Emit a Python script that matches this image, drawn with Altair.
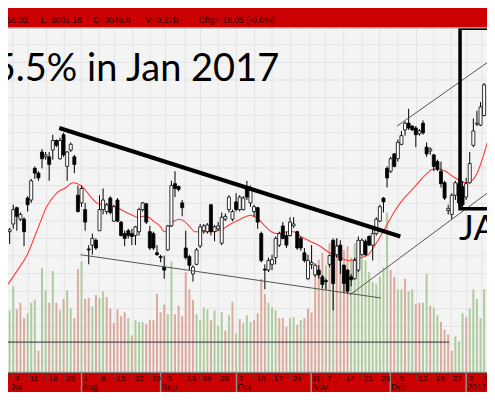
import altair as alt
import pandas as pd

# ---------------- layout constants ----------------
W, H = 479, 384          # whole chart (fits the page inside its 8px margin)
REF_W, REF_H = 495, 400  # reference picture size
KX, KY = W / REF_W, H / REF_H
STEP = 3.7146            # reference px per trading day
X0 = 1.7                 # reference px of the first candle
XDOM = [-X0 / STEP, (REF_W - X0) / STEP]
PDOM = [0, 400]          # price-level domain
VDOM = [-20, 380]        # volume domain (0 sits on top of the date band)

# ---------------- data ----------------
opens = [167, 175, 192, 180, 180, 202, 200, 233, 228, 250, 245, 245, 252, 262, 243, 268, 235, 252, 245, 205,
         197, 190, 149, 153, 158, 168, 190, 188, 202, 178, 200, 177, 165, 168, 165, 163, 167, 190, 196, 167,
         165, 145, 141, 130, 148, 173, 217, 214, 197, 150, 141, 123, 133, 152, 168, 167, 195, 167, 170, 155,
         180, 190, 180, 198, 190, 190, 213, 197, 188, 192, 165, 128, 127, 133, 140, 153, 173, 163, 163, 173,
         167, 160, 145, 118, 133, 122, 127, 120, 116, 133, 158, 143, 153, 132, 127, 120, 118, 127, 143, 157,
         162, 153, 165, 178, 202, 233, 230, 248, 243, 258, 273, 280, 277, 275, 269, 280, 255, 251, 247, 240,
         230, 218, 189, 185, 205, 217, 214, 203, 218, 257, 279, 278, 288]
highs = [171, 195, 193, 187, 182, 204, 222, 235, 230, 253, 250, 250, 268, 263, 265, 270, 251, 260, 247, 215,
         215, 197, 153, 165, 160, 205, 212, 197, 204, 195, 202, 178, 168, 170, 170, 173, 192, 198, 197, 173,
         167, 153, 143, 142, 174, 220, 230, 215, 200, 168, 143, 132, 150, 175, 175, 176, 196, 174, 177, 187,
         186, 205, 190, 207, 205, 204, 220, 215, 195, 193, 167, 133, 140, 143, 162, 167, 177, 167, 182, 182,
         168, 162, 150, 143, 153, 134, 132, 122, 118, 143, 160, 160, 158, 133, 128, 123, 140, 162, 160, 159,
         163, 170, 182, 195, 203, 235, 245, 249, 263, 272, 282, 295, 278, 277, 274, 283, 260, 255, 248, 242,
         240, 220, 195, 207, 220, 223, 220, 223, 250, 285, 293, 302, 322]
lows = [154, 170, 168, 178, 152, 188, 197, 222, 220, 233, 242, 220, 242, 255, 242, 245, 220, 250, 228, 187,
        193, 168, 133, 143, 148, 168, 185, 185, 185, 177, 177, 162, 152, 160, 153, 153, 163, 188, 175, 148,
        148, 142, 135, 118, 147, 172, 203, 209, 183, 138, 127, 115, 132, 150, 165, 165, 163, 157, 168, 153,
        178, 187, 178, 188, 188, 189, 200, 193, 183, 170, 135, 107, 125, 127, 133, 151, 159, 150, 162, 171,
        148, 147, 135, 117, 128, 120, 118, 108, 107, 130, 85, 140, 123, 103, 102, 110, 117, 125, 142, 142,
        152, 137, 163, 177, 187, 213, 228, 234, 240, 257, 267, 273, 272, 255, 267, 268, 245, 247, 230, 230,
        213, 200, 185, 180, 200, 193, 192, 200, 217, 255, 277, 277, 287]
closes = [169, 190, 183, 185, 167, 195, 220, 228, 223, 243, 247, 237, 262, 257, 262, 247, 250, 258, 237, 188,
          212, 177, 148, 160, 150, 190, 200, 195, 187, 193, 178, 163, 160, 163, 162, 172, 190, 197, 177, 150,
          150, 143, 140, 127, 173, 215, 212, 211, 192, 140, 132, 130, 148, 172, 173, 174, 167, 172, 173, 182,
          183, 203, 188, 190, 203, 202, 203, 210, 193, 177, 137, 127, 137, 138, 160, 165, 160, 153, 177, 175,
          150, 150, 137, 137, 135, 132, 122, 112, 115, 142, 113, 152, 137, 113, 105, 117, 137, 158, 158, 143,
          153, 165, 180, 193, 198, 223, 243, 235, 260, 267, 280, 275, 273, 268, 272, 270, 248, 253, 235, 232,
          217, 202, 191, 205, 218, 197, 195, 217, 238, 272, 280, 297, 320]
volumes = [65, 90, 66, 73, 57, 62, 73, 76, 23, 109, 86, 73, 106, 73, 65, 77, 86, 67, 57, 108,
           116, 77, 78, 69, 81, 78, 85, 79, 67, 52, 66, 59, 63, 57, 39, 55, 53, 53, 51, 55,
           55, 82, 63, 71, 61, 116, 61, 70, 59, 105, 87, 76, 61, 55, 68, 66, 55, 65, 49, 63,
           44, 60, 74, 41, 56, 52, 60, 53, 55, 62, 98, 82, 73, 68, 65, 57, 57, 48, 57, 58,
           50, 55, 57, 67, 63, 102, 118, 125, 112, 135, 125, 140, 130, 128, 132, 120, 135, 125, 122, 117,
           105, 95, 93, 100, 110, 167, 107, 100, 87, 87, 98, 85, 87, 72, 73, 73, 103, 70, 68, 60,
           53, 45, 40, 23, 38, 33, 62, 58, 67, 87, 77, 57, 87]
vol_dir = list("ggrrrgggrggrgrgrggrrgrrgrggrrrrrrgrgggrrrrrrggrrrrrrggggrgggrgrgrgg"
               "grrrrgggrrrggrgrrrrrrgrgrrrrgggggggggggrrggrggrrggrggrrrrgggrgggggrg")
vol_dir = vol_dir[:len(volumes)]

ma_idx = [-0.5, 2.2, 4.9, 7.6, 10.3, 13.0, 15.7, 17.5, 18.9, 20.2, 21.6, 23.3, 24.7, 26.5, 28.3, 30.1,
          31.9, 33.7, 35.5, 37.3, 38.6, 40.0, 41.8, 43.1, 44.0, 45.4, 47.2, 48.5, 49.9, 51.6, 53.5, 56.1,
          58.8, 61.5, 64.2, 66.9, 69.2, 71.0, 72.8, 74.6, 77.3, 79.1, 80.9, 83.6, 86.3, 89.0, 91.7, 94.3,
          96.1, 97.9, 99.7, 101.5, 103.3, 105.1, 106.9, 108.7, 110.5, 112.3, 114.1, 115.9, 117.7, 119.5,
          121.3, 123.1, 124.9, 126.7, 128.5, 130.3, 131.7, 132.9]
ma_val = [112, 127, 143, 168, 193, 207, 213, 218, 217, 214, 208, 200, 196, 195, 194, 192,
          188, 185, 182, 183, 182, 178, 173, 167, 170, 177, 180, 178, 173, 167, 167, 167,
          169, 175, 180, 184, 180, 173, 167, 165, 167, 167, 162, 157, 152, 145, 140, 137,
          138, 140, 143, 152, 163, 175, 187, 197, 205, 212, 220, 227, 232, 232,
          230, 225, 221, 218, 220, 230, 245, 260]

# trend lines: (line id, day index, level)
thick_line = [(13.8, 275), (108.7, 162)]
thin_lines = [("support", 19.7, 143), ("support", 103.2, 98),
              ("rise", 94.6, 101), ("rise", 132.8, 207),
              ("channel", 107.8, 277), ("channel", 132.8, 343),
              ("flat", -0.46, 52), ("flat", 122.3, 52)]
box = [(125.3, 140.0, 191, 379)]

grid_levels = [380, 361.7, 343.3, 325, 306.7, 288.3, 270, 251.7, 233.3, 215, 196.7, 178.3, 160, 141.7,
               123.3, 105, 86.7, 68.3, 50, 31.7]
week_pos = [0.9, 5.2, 10.3, 15.2, 20.0, 24.85, 29.2, 34.3, 39.1, 43.4, 48.8, 53.1, 58.0, 63.1, 68.2, 73.0,
            78.2, 83.5, 87.8, 92.95, 98.1, 102.9, 108.0, 113.2, 118.0, 122.8, 127.1, 131.4]
week_labels = ["4", "11", "18", "25", "1", "8", "15", "22", "29", "5", "13", "19", "28", "3", "10", "17",
               "24", "31", "7", "14", "21", "28", "5", "12", "19", "27", "3", "9"]
month_sep = [20.0, 42.0, 63.1, 83.9, 105.9, 127.0]
month_pos = [0.0, 20.0, 42.0, 63.1, 83.9, 105.9, 127.0]
month_labels = ["Jul", "Aug", "Sep", "Oct", "Nov", "Dec", "2017"]

header_items = [("H=3056.32", 5.2, "right"), ("L=3031.18", 8.7, "left"), ("C=3046.8", 23.2, "left"),
                ("V=0.27B", 37.8, "left"), ("Chg=-18.05 (-0.6%)", 52.6, "left")]
headline = [("15.5% in Jan 2017", 75.0, 324)]
corner = [("JA", 125.0, 158)]

# ---------------- frames ----------------
n = len(closes)
candles = pd.DataFrame({"idx": list(range(n)), "o": opens, "h": highs, "l": lows, "c": closes})
candles["up"] = candles["c"] >= candles["o"]
vol = pd.DataFrame({"idx": list(range(n)), "vol": volumes, "dir": vol_dir})
ma = pd.DataFrame({"idx": ma_idx, "v": ma_val})
thick = pd.DataFrame(thick_line, columns=["idx", "v"])
thin = pd.DataFrame(thin_lines, columns=["id", "idx", "v"])
boxdf = pd.DataFrame(box, columns=["x1", "x2", "y1", "y2"])
grid_y = pd.DataFrame({"v": grid_levels})
weeks = pd.DataFrame({"idx": week_pos, "lab": week_labels})
seps = pd.DataFrame({"idx": month_sep})
months = pd.DataFrame({"idx": month_pos, "lab": month_labels})
header = pd.DataFrame(header_items, columns=["txt", "idx", "al"])
head_df = pd.DataFrame(headline, columns=["txt", "idx", "v"])
corner_df = pd.DataFrame(corner, columns=["txt", "idx", "v"])

xs = alt.Scale(domain=XDOM, nice=False, zero=False)
ps = alt.Scale(domain=PDOM, nice=False, zero=False)
vs = alt.Scale(domain=VDOM, nice=False, zero=False)

def X(field="idx"):
    return alt.X(f"{field}:Q", scale=xs, axis=None)

def P(field):
    return alt.Y(f"{field}:Q", scale=ps, axis=None)

GRID = "#e4e4e4"
RED_BAND = "#cc0000"
TXT = "#2a0000"

grid_h = alt.Chart(grid_y).mark_rule(color=GRID, strokeWidth=1).encode(y=P("v"))
grid_v = alt.Chart(weeks).mark_rule(color=GRID, strokeWidth=1).encode(x=X())

vol_bars = alt.Chart(vol).transform_calculate(
    x1="datum.idx - 0.28", x2="datum.idx + 0.28", zero="0"
).mark_rect().encode(
    x=alt.X("x1:Q", scale=xs, axis=None), x2="x2:Q",
    y=alt.Y("vol:Q", scale=vs, axis=None), y2="zero:Q",
    color=alt.Color("dir:N", scale=alt.Scale(domain=["g", "r"], range=["#afcc9f", "#dcab9e"]), legend=None),
)

flat_line = alt.Chart(thin[thin["id"] == "flat"]).mark_line(color="#333333", strokeWidth=1).encode(
    x=X(), y=P("v"))

ma_line = alt.Chart(ma).mark_line(color="#ff3b3b", strokeWidth=1.1, interpolate="monotone").encode(
    x=X(), y=P("v"))

wicks = alt.Chart(candles).mark_rule(color="#000000", strokeWidth=1).encode(
    x=X(), y=P("l"), y2="h:Q")

bodies = alt.Chart(candles).transform_calculate(
    x1="datum.idx - 0.42", x2="datum.idx + 0.42"
).mark_rect(stroke="#000000", strokeWidth=0.8).encode(
    x=alt.X("x1:Q", scale=xs, axis=None), x2="x2:Q",
    y=P("o"), y2="c:Q",
    fill=alt.Fill("up:N", scale=alt.Scale(domain=[True, False], range=["#ffffff", "#000000"]), legend=None),
)

thin_tl = alt.Chart(thin[thin["id"] != "flat"]).mark_line(color="#555555", strokeWidth=1).encode(
    x=X(), y=P("v"), detail="id:N")

thick_tl = alt.Chart(thick).mark_line(color="#000000", strokeWidth=4).encode(x=X(), y=P("v"))

box_mark = alt.Chart(boxdf).mark_rect(fillOpacity=0, stroke="#000000", strokeWidth=3.5, clip=True).encode(
    x=alt.X("x1:Q", scale=xs, axis=None), x2="x2:Q", y=P("y1"), y2="y2:Q")

head_txt = alt.Chart(head_df).mark_text(
    font="Lato", fontSize=38, align="right", baseline="alphabetic", color="#000000"
).encode(x=X(), y=P("v"), text="txt:N")

corner_txt = alt.Chart(corner_df).mark_text(
    font="Lato", fontSize=35, align="left", baseline="alphabetic", color="#000000"
).encode(x=X(), y=P("v"), text="txt:N")

# bands
band_top = alt.Chart(grid_y.head(1)).mark_rect(color=RED_BAND).encode(
    x=alt.value(0), x2=alt.value(W), y=alt.value(0), y2=alt.value(20 * KY))
band_top_edge = alt.Chart(grid_y.head(1)).mark_rule(color="#9a9a9a", strokeWidth=1.5).encode(
    x=alt.value(0), x2=alt.value(W), y=alt.value(20.7 * KY))
band_bot = alt.Chart(grid_y.head(1)).mark_rect(color=RED_BAND).encode(
    x=alt.value(0), x2=alt.value(W), y=alt.value(379.5 * KY), y2=alt.value(H))
band_bot_edge = alt.Chart(grid_y.head(1)).mark_rule(color="#8a8a8a", strokeWidth=1.2).encode(
    x=alt.value(0), x2=alt.value(W), y=alt.value(379.5 * KY))

week_ticks = alt.Chart(weeks).mark_rule(color="#7a3030", strokeWidth=1).encode(
    x=X(), y=alt.value(380 * KY), y2=alt.value(388 * KY))
month_lines = alt.Chart(seps).mark_rule(color="#8c8c8c", strokeWidth=1.5).encode(
    x=X(), y=alt.value(380 * KY), y2=alt.value(H))
week_txt = alt.Chart(weeks).mark_text(
    font="Liberation Sans", fontSize=7.8, align="left", baseline="alphabetic", dx=2, color=TXT
).encode(x=X(), y=alt.value(388.8 * KY), text="lab:N")
month_txt = alt.Chart(months).mark_text(
    font="Liberation Sans", fontSize=8.6, align="left", baseline="alphabetic", dx=1, color=TXT
).encode(x=X(), y=alt.value(398 * KY), text="lab:N")

header_left = alt.Chart(header[header["al"] == "left"]).mark_text(
    font="Liberation Sans", fontSize=8.6, align="left", baseline="alphabetic", color=TXT
).encode(x=X(), y=alt.value(15.5 * KY), text="txt:N")
header_right = alt.Chart(header[header["al"] == "right"]).mark_text(
    font="Liberation Sans", fontSize=8.6, align="right", baseline="alphabetic", color=TXT
).encode(x=X(), y=alt.value(15.5 * KY), text="txt:N")

chart = alt.layer(
    grid_h, grid_v, vol_bars, flat_line, ma_line, wicks, bodies, thin_tl, thick_tl, box_mark,
    head_txt, corner_txt,
    band_top, band_top_edge, band_bot, band_bot_edge, week_ticks, month_lines, week_txt, month_txt,
    header_left, header_right,
).resolve_scale(y="independent").properties(
    width=W, height=H, padding=0, autosize=alt.AutoSizeParams(type="none"),
    background="#f4f4f4",
).configure_view(fill="#f4f4f4", strokeWidth=0)

chart.save("out.html", embed_options={"renderer": "svg", "actions": False})
